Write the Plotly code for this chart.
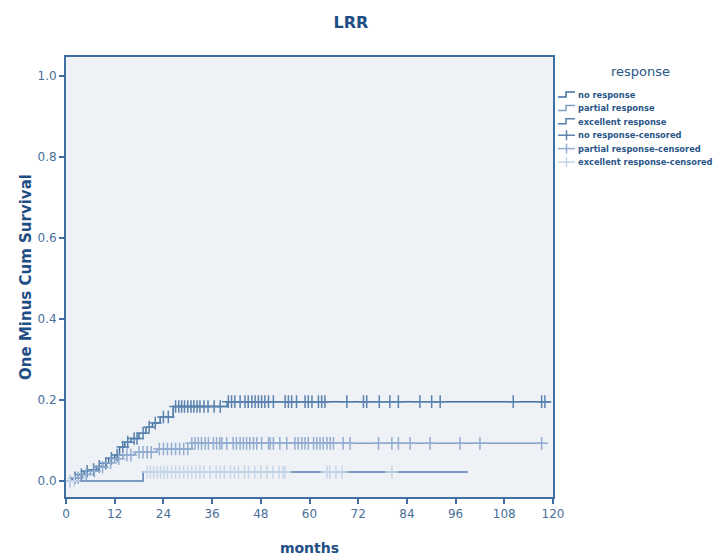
import plotly.graph_objects as go

# ---- data ----
nr_times = [0, 1.5, 3, 4.5, 6, 7.5, 9, 10.5, 12, 13.2, 14.5, 16, 18, 19.7, 21.3, 23.2, 26.4, 39.7, 119.5]
nr_values = [0, 0.008, 0.016, 0.024, 0.028, 0.036, 0.044, 0.056, 0.064, 0.084, 0.096, 0.105, 0.118, 0.133, 0.143, 0.158, 0.184, 0.196, 0.196]
nr_censor = [2.2, 3.8, 5.2, 6.8, 8.2, 9.8, 11.2, 12.6, 14, 15.2, 16.8, 17.5, 19, 20.5, 22, 24, 25.2,
             27, 27.8, 28.5, 29.2, 30, 30.8, 31.5, 32.3, 33, 34, 35, 36.5, 38,
             40, 40.8, 41.6, 42.9, 44.1, 44.9, 45.8, 46.6, 47.4, 48.2, 49.0, 49.9, 51.1, 54.0, 54.8,
             55.6, 56.8, 58.9, 59.7, 60.6, 62.2, 63.0, 63.8, 69.2, 73.3, 74.1, 77.2, 79.8, 81.9,
             87.2, 90.1, 92.2, 110.2, 117.2, 118.0]

pr_times = [0, 2, 4, 6, 8, 10, 12, 14, 17, 22.4, 31, 118]
pr_values = [0, 0.008, 0.016, 0.024, 0.034, 0.045, 0.055, 0.064, 0.071, 0.079, 0.093, 0.093]
pr_censor = [1, 3, 5, 7, 9, 11, 13, 15, 16, 18, 19, 20, 21, 23, 24, 25, 26, 27, 28, 29, 30,
             31, 31.8, 32.6, 33.4, 34.3, 35.1, 36.3, 37.1, 37.9, 38.4, 39.6, 41.2, 42.0, 42.9,
             43.7, 44.5, 45.3, 46.2, 47.0, 48.2, 49.9, 50.3, 51.1, 52.7, 54.4, 56.4, 57.2, 58.1,
             58.9, 59.7, 61.0, 61.8, 62.6, 63.4, 64.3, 65.1, 65.9, 68.3, 70.0, 77.0, 80.3, 81.9,
             84.8, 89.7, 97.1, 102.0, 117.2]

ex_times = [0, 19, 99]
ex_values = [0, 0.022, 0.022]
ex_censor = [1, 2, 20, 20.8, 21.6, 22.5, 23.3, 24.1, 25, 26, 27, 28, 29, 30, 31, 32, 33, 34,
             35.5, 37, 38, 39, 40.5, 41.5, 42.5, 44, 45, 46.5, 48, 49.5, 51, 52.5, 53.5, 54,
             64.3, 65, 66.5, 68, 80.3]

x_ticks = [0, 12, 24, 36, 48, 60, 72, 84, 96, 108, 120]
y_ticks = [0.0, 0.2, 0.4, 0.6, 0.8, 1.0]

legend_title = "response"
legend_labels = ["no response", "partial response", "excellent response",
                 "no response-censored", "partial response-censored", "excellent response-censored"]


def step_at(times, values, t):
    v = values[0]
    for tt, vv in zip(times, values):
        if tt <= t:
            v = vv
    return v


c_nr, c_pr, c_ex = "#3f6fa2", "#7f9fc3", "#5580b0"
cc_nr, cc_pr, cc_ex = "#5a82ae", "#93add0", "#c6d5e6"

fig = go.Figure()
for t, v, col in [(nr_times, nr_values, c_nr), (pr_times, pr_values, c_pr), (ex_times, ex_values, c_ex)]:
    fig.add_trace(go.Scatter(x=t, y=v, mode="lines", line_shape="hv",
                             line=dict(color=col, width=1.5), showlegend=False, hoverinfo="skip"))
for cens, tt, vv, col in [(nr_censor, nr_times, nr_values, cc_nr),
                          (pr_censor, pr_times, pr_values, cc_pr),
                          (ex_censor, ex_times, ex_values, cc_ex)]:
    fig.add_trace(go.Scatter(x=cens, y=[step_at(tt, vv, t) for t in cens], mode="markers",
                             marker=dict(symbol="cross-thin-open", size=9, color=col,
                                         line=dict(color=col, width=1.5)),
                             showlegend=False))

# ---- manual legend (SPSS style), positioned in figure pixels ----
W, H = 716, 548
L, R, T, B = 58, 171, 49, 59
pw, ph = W - L - R, H - T - B
FONT = "DejaVu Sans, Verdana, sans-serif"


def px(sx):  # screen x -> paper x
    return (sx - 8 - L) / pw


def py(sy):  # screen y -> paper y
    return (H - B - (sy - 8)) / ph


annotations = [dict(text=legend_title, x=px(640), y=py(72), xref="paper", yref="paper",
                    showarrow=False, xanchor="center", yanchor="middle",
                    font=dict(size=13, color="#2a5588"))]
shapes = []
row_y = [95, 108.4, 121.8, 135.2, 148.6, 162]
glyph_cols = [c_nr, c_pr, c_ex, cc_nr, cc_pr, cc_ex]
for i, (lab, yy, col) in enumerate(zip(legend_labels, row_y, glyph_cols)):
    annotations.append(dict(text="<b>" + lab + "</b>", x=px(576), y=py(yy), xref="paper", yref="paper",
                            showarrow=False, xanchor="left", yanchor="middle",
                            font=dict(size=8.3, color="#2a5588")))
    if i < 3:
        path = (f"M {px(558)} {py(yy + 2)} L {px(566)} {py(yy + 2)} L {px(566)} {py(yy - 3)} "
                f"L {px(575)} {py(yy - 3)}")
        shapes.append(dict(type="path", path=path, xref="paper", yref="paper",
                           line=dict(color=col, width=1.5)))
    else:
        shapes.append(dict(type="line", x0=px(558), x1=px(575), y0=py(yy), y1=py(yy),
                           xref="paper", yref="paper", line=dict(color=col, width=1.5)))
        shapes.append(dict(type="line", x0=px(566.5), x1=px(566.5), y0=py(yy - 5), y1=py(yy + 5),
                           xref="paper", yref="paper", line=dict(color=col, width=1.5)))

axis_col = "#3f6fa2"
fig.update_layout(
    width=W, height=H,
    margin=dict(l=L, r=R, t=T, b=B, autoexpand=False),
    paper_bgcolor="white", plot_bgcolor="#eef2f7",
    font=dict(family=FONT, color="#4a6f99"),
    title=dict(text="<b>LRR</b>", x=(351 - 8) / W, xref="container", xanchor="center",
               y=1 - 14 / H, yanchor="middle", yref="container",
               font=dict(size=16, color="#1f4e85")),
    showlegend=False,
    annotations=annotations,
    shapes=shapes,
    xaxis=dict(range=[0, 120], tickvals=x_ticks, ticktext=[str(v) for v in x_ticks],
               showgrid=False, zeroline=False, showline=True, linecolor=axis_col, linewidth=2,
               mirror=True, ticks="outside", ticklen=5, tickcolor=axis_col, tickwidth=2,
               tickfont=dict(size=12, color="#4a6f99"), automargin=False,
               title=dict(text="<b>months</b>", font=dict(size=14, color="#1f4e85"), standoff=24)),
    yaxis=dict(range=[-0.0395, 1.047], tickvals=y_ticks, ticktext=[f"{v:.1f}" for v in y_ticks],
               showgrid=False, zeroline=False, showline=True, linecolor=axis_col, linewidth=2,
               mirror=True, ticks="outside", ticklen=5, tickcolor=axis_col, tickwidth=2,
               tickfont=dict(size=12, color="#4a6f99"), automargin=False,
               title=dict(text="<b>One Minus Cum Survival</b>", font=dict(size=15, color="#1f4e85"),
                          standoff=2)),
)

fig.write_html("out.html")
